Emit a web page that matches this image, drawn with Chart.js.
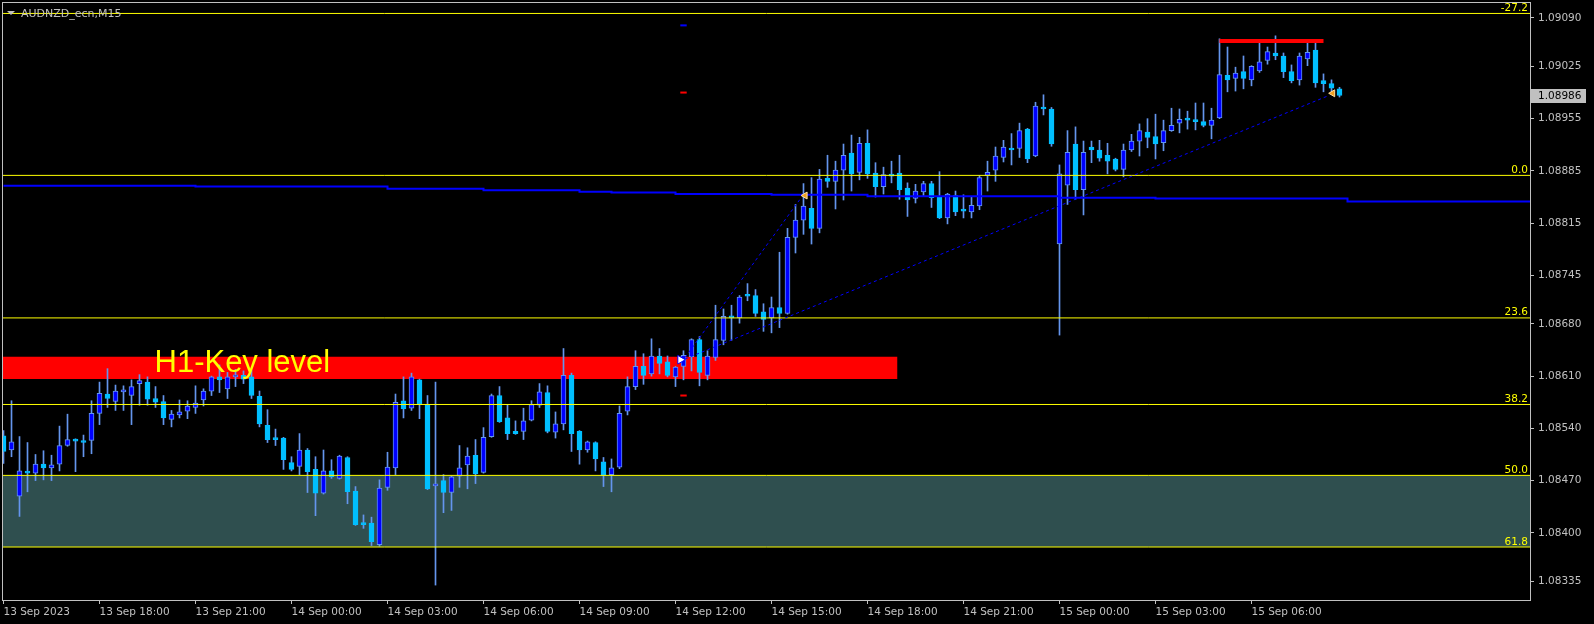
<!DOCTYPE html>
<html>
<head>
<meta charset="utf-8">
<title>AUDNZD_ecn,M15</title>
<script src="https://cdn.jsdelivr.net/npm/chart.js@4.4.0/dist/chart.umd.min.js"></script>
<style>
  html, body { margin: 0; padding: 0; background: #000; }
  #wrap { width: 1594px; height: 624px; }
</style>
</head>
<body>
<div id="wrap"><canvas id="chart" width="1594" height="624"></canvas></div>
<script>
/* AUDNZD M15 candles, MetaTrader look */

// Bar 0 = 13 Sep 2023 15:00, one bar every 15 minutes
const opens = [
  1.08530, 1.08511, 1.08449, 1.08481, 1.08480, 1.08492, 1.08487, 1.08492, 1.08517, 1.08525,
  1.08523, 1.08524, 1.08560, 1.08586, 1.08576, 1.08589, 1.08584, 1.08600, 1.08602, 1.08580,
  1.08576, 1.08552, 1.08558, 1.08563, 1.08568, 1.08578, 1.08590, 1.08609, 1.08593, 1.08609,
  1.08611, 1.08609, 1.08583, 1.08544, 1.08527, 1.08527, 1.08494, 1.08489, 1.08511, 1.08485,
  1.08453, 1.08483, 1.08473, 1.08501, 1.08456, 1.08413, 1.08413, 1.08384, 1.08461, 1.08487,
  1.08577, 1.08567, 1.08605, 1.08572, 1.08463, 1.08470, 1.08454, 1.08476, 1.08491, 1.08504,
  1.08481, 1.08529, 1.08584, 1.08554, 1.08536, 1.08536, 1.08551, 1.08571, 1.08588, 1.08535,
  1.08546, 1.08611, 1.08536, 1.08511, 1.08521, 1.08495, 1.08478, 1.08488, 1.08563, 1.08596,
  1.08623, 1.08613, 1.08637, 1.08629, 1.08609, 1.08623, 1.08636, 1.08659, 1.08611, 1.08635,
  1.08658, 1.08690, 1.08688, 1.08718, 1.08718, 1.08696, 1.08688, 1.08702, 1.08694, 1.08796,
  1.08819, 1.08835, 1.08808, 1.08875, 1.08871, 1.08886, 1.08909, 1.08883, 1.08922, 1.08882,
  1.08864, 1.08880, 1.08882, 1.08862, 1.08848, 1.08857, 1.08868, 1.08850, 1.08822, 1.08852,
  1.08834, 1.08830, 1.08838, 1.08879, 1.08886, 1.08903, 1.08915, 1.08915, 1.08941, 1.08905,
  1.08970, 1.08968, 1.08787, 1.08866, 1.08921, 1.08860, 1.08917, 1.08913, 1.08906, 1.08901,
  1.08887, 1.08913, 1.08925, 1.08937, 1.08931, 1.08923, 1.08939, 1.08949, 1.08954, 1.08953,
  1.08951, 1.08946, 1.08956, 1.09013, 1.09009, 1.09018, 1.09007, 1.09019, 1.09033, 1.09043,
  1.09039, 1.09018, 1.09007, 1.09035, 1.09047, 1.09006, 1.09002, 1.08995
];
const highs = [
  1.08537, 1.08577, 1.08529, 1.08521, 1.08505, 1.08510, 1.08504, 1.08543, 1.08559, 1.08526,
  1.08531, 1.08577, 1.08602, 1.08620, 1.08598, 1.08597, 1.08605, 1.08612, 1.08609, 1.08596,
  1.08584, 1.08564, 1.08578, 1.08577, 1.08597, 1.08593, 1.08610, 1.08625, 1.08615, 1.08619,
  1.08617, 1.08618, 1.08590, 1.08565, 1.08539, 1.08528, 1.08502, 1.08533, 1.08513, 1.08502,
  1.08511, 1.08498, 1.08504, 1.08502, 1.08462, 1.08424, 1.08421, 1.08471, 1.08508, 1.08586,
  1.08609, 1.08614, 1.08606, 1.08584, 1.08602, 1.08478, 1.08476, 1.08517, 1.08514, 1.08525,
  1.08541, 1.08586, 1.08596, 1.08572, 1.08550, 1.08567, 1.08577, 1.08600, 1.08597, 1.08562,
  1.08647, 1.08614, 1.08537, 1.08523, 1.08522, 1.08501, 1.08499, 1.08570, 1.08609, 1.08644,
  1.08640, 1.08660, 1.08647, 1.08637, 1.08623, 1.08644, 1.08660, 1.08663, 1.08644, 1.08705,
  1.08700, 1.08705, 1.08718, 1.08734, 1.08726, 1.08707, 1.08716, 1.08776, 1.08808, 1.08840,
  1.08868, 1.08876, 1.08887, 1.08906, 1.08898, 1.08921, 1.08933, 1.08930, 1.08940, 1.08896,
  1.08890, 1.08898, 1.08906, 1.08869, 1.08867, 1.08871, 1.08871, 1.08884, 1.08855, 1.08858,
  1.08853, 1.08850, 1.08879, 1.08898, 1.08917, 1.08926, 1.08935, 1.08949, 1.08942, 1.08977,
  1.08987, 1.08970, 1.08893, 1.08939, 1.08944, 1.08925, 1.08925, 1.08926, 1.08922, 1.08902,
  1.08921, 1.08934, 1.08948, 1.08955, 1.08961, 1.08953, 1.08969, 1.08968, 1.08965, 1.08976,
  1.08976, 1.08969, 1.09062, 1.09051, 1.09024, 1.09039, 1.09026, 1.09058, 1.09051, 1.09066,
  1.09043, 1.09027, 1.09043, 1.09060, 1.09056, 1.09015, 1.09007, 1.08997
];
const lows = [
  1.08493, 1.08502, 1.08422, 1.08455, 1.08470, 1.08471, 1.08470, 1.08483, 1.08516, 1.08482,
  1.08502, 1.08506, 1.08545, 1.08568, 1.08564, 1.08564, 1.08545, 1.08571, 1.08571, 1.08568,
  1.08545, 1.08542, 1.08554, 1.08553, 1.08560, 1.08570, 1.08584, 1.08588, 1.08580, 1.08596,
  1.08600, 1.08580, 1.08542, 1.08521, 1.08517, 1.08485, 1.08483, 1.08478, 1.08454, 1.08423,
  1.08452, 1.08473, 1.08472, 1.08439, 1.08410, 1.08406, 1.08383, 1.08382, 1.08457, 1.08478,
  1.08554, 1.08564, 1.08553, 1.08458, 1.08330, 1.08427, 1.08430, 1.08461, 1.08459, 1.08466,
  1.08480, 1.08528, 1.08548, 1.08525, 1.08532, 1.08525, 1.08550, 1.08568, 1.08534, 1.08527,
  1.08538, 1.08509, 1.08492, 1.08508, 1.08483, 1.08462, 1.08455, 1.08486, 1.08558, 1.08592,
  1.08599, 1.08610, 1.08613, 1.08609, 1.08596, 1.08605, 1.08617, 1.08597, 1.08605, 1.08631,
  1.08652, 1.08658, 1.08681, 1.08711, 1.08690, 1.08670, 1.08668, 1.08675, 1.08693, 1.08775,
  1.08800, 1.08787, 1.08802, 1.08863, 1.08834, 1.08846, 1.08858, 1.08873, 1.08875, 1.08850,
  1.08854, 1.08869, 1.08847, 1.08824, 1.08842, 1.08852, 1.08836, 1.08821, 1.08814, 1.08825,
  1.08822, 1.08822, 1.08833, 1.08858, 1.08871, 1.08897, 1.08893, 1.08903, 1.08896, 1.08904,
  1.08960, 1.08918, 1.08665, 1.08840, 1.08847, 1.08826, 1.08896, 1.08898, 1.08881, 1.08885,
  1.08877, 1.08911, 1.08905, 1.08916, 1.08901, 1.08912, 1.08938, 1.08936, 1.08941, 1.08940,
  1.08944, 1.08928, 1.08955, 1.08991, 1.08992, 1.08995, 1.08999, 1.09017, 1.09028, 1.09034,
  1.09010, 1.09003, 1.09000, 1.09026, 1.08997, 1.08991, 1.08989, 1.08984
];
const closes = [
  1.08509, 1.08522, 1.08483, 1.08480, 1.08492, 1.08487, 1.08491, 1.08517, 1.08525, 1.08523,
  1.08521, 1.08560, 1.08587, 1.08580, 1.08590, 1.08590, 1.08596, 1.08604, 1.08579, 1.08575,
  1.08554, 1.08559, 1.08562, 1.08570, 1.08574, 1.08590, 1.08609, 1.08605, 1.08609, 1.08611,
  1.08606, 1.08584, 1.08546, 1.08525, 1.08525, 1.08498, 1.08485, 1.08511, 1.08482, 1.08453,
  1.08483, 1.08475, 1.08503, 1.08455, 1.08411, 1.08411, 1.08388, 1.08460, 1.08488, 1.08575,
  1.08566, 1.08609, 1.08572, 1.08459, 1.08465, 1.08454, 1.08475, 1.08487, 1.08503, 1.08479,
  1.08528, 1.08584, 1.08549, 1.08533, 1.08533, 1.08550, 1.08572, 1.08589, 1.08536, 1.08546,
  1.08611, 1.08533, 1.08511, 1.08522, 1.08499, 1.08477, 1.08487, 1.08560, 1.08596, 1.08623,
  1.08611, 1.08637, 1.08627, 1.08611, 1.08622, 1.08638, 1.08659, 1.08615, 1.08637, 1.08659,
  1.08690, 1.08688, 1.08716, 1.08717, 1.08694, 1.08686, 1.08702, 1.08694, 1.08796, 1.08819,
  1.08838, 1.08808, 1.08874, 1.08871, 1.08886, 1.08906, 1.08881, 1.08922, 1.08881, 1.08864,
  1.08880, 1.08878, 1.08860, 1.08846, 1.08858, 1.08868, 1.08849, 1.08822, 1.08854, 1.08830,
  1.08831, 1.08839, 1.08876, 1.08883, 1.08905, 1.08917, 1.08913, 1.08939, 1.08901, 1.08972,
  1.08968, 1.08921, 1.08881, 1.08910, 1.08860, 1.08910, 1.08913, 1.08902, 1.08898, 1.08887,
  1.08913, 1.08925, 1.08939, 1.08930, 1.08921, 1.08939, 1.08946, 1.08954, 1.08953, 1.08951,
  1.08946, 1.08953, 1.09014, 1.09007, 1.09016, 1.09009, 1.09025, 1.09031, 1.09045, 1.09039,
  1.09018, 1.09006, 1.09039, 1.09044, 1.09003, 1.09002, 1.08996, 1.08986
];

// Time axis: bar index of each label
const timeTickBars = [0, 12, 24, 36, 48, 60, 72, 84, 96, 108, 120, 132, 144, 156];
const timeTickLabels = [
  '13 Sep 2023', '13 Sep 18:00', '13 Sep 21:00', '14 Sep 00:00', '14 Sep 03:00',
  '14 Sep 06:00', '14 Sep 09:00', '14 Sep 12:00', '14 Sep 15:00', '14 Sep 18:00',
  '14 Sep 21:00', '15 Sep 00:00', '15 Sep 03:00', '15 Sep 06:00'
];

// Price axis labels
const priceTicks = [1.09090, 1.09025, 1.08955, 1.08885, 1.08815, 1.08745,
                    1.08680, 1.08610, 1.08540, 1.08470, 1.08400, 1.08335];

// Fibonacci retracement levels
const fibNames = ['-27.2', '0.0', '23.6', '38.2', '50.0', '61.8'];
const fibPrices = [1.09096, 1.08879, 1.08688, 1.08572, 1.08477, 1.08381];

// Higher timeframe moving average (steps)
const maBars = [0, 24, 48, 60, 72, 76, 84, 96, 108, 132, 144, 168];
const maValues = [1.08865, 1.08864, 1.08861, 1.08859, 1.08857, 1.08856,
                  1.08854, 1.08853, 1.08851, 1.08849, 1.08848, 1.08844];

// H1 key level zone
const keyZoneBars = [-0.0625, 111.75];
const keyZonePrices = [1.08606, 1.08636];
const keyLabelBar = 18.875;
const keyLabelPrice = 1.08616;

// Trend lines (dotted)
const trendABars = [85.2, 99.7];
const trendAPrices = [1.08635, 1.08849];
const trendBBars = [85.2, 165.44];
const trendBPrices = [1.08633, 1.08985];

// Top resistance segment
const resistBars = [152, 165];
const resistPrice = 1.09059;

// Markers
const arrowBars = [100.2, 166.15];
const arrowPrices = [1.08852, 1.08989];
const startBars = [84.6];
const startPrices = [1.08632];
const dashBars = [84.6, 85.4];
const blueDashPrice = 1.09080;
const redDashPrices = [1.08990, 1.08584];

// View window
const X_MIN = -0.0625, X_MAX = 190.8125;
const Y_MIN = 1.08310, Y_MAX = 1.09110;

const AXIS_COLOR = '#c0c0c0';
const BULL_FILL = '#0000ff';
const BEAR_FILL = '#00bfff';
const WICK_COLOR = '#6495ed';
const FIB_COLOR = '#ffff00';

Chart.defaults.font.family = '"DejaVu Sans", sans-serif';
Chart.defaults.font.size = 10.5;

const isBull = i => closes[i] >= opens[i];
const hline = (price, from, to) => [{ x: from, y: price }, { x: to, y: price }];
const lineDs = (data, color, width, order, extra) => Object.assign({
  type: 'line', data: data, borderColor: color, borderWidth: width,
  pointRadius: 0, fill: false, order: order
}, extra || {});

const bodyData = opens.map((o, i) => ({ x: i, y: [o, closes[i]] }));
const wickData = opens.map((o, i) => ({ x: i, y: [lows[i], highs[i]] }));

const maData = maBars.map((b, i) => ({ x: b, y: maValues[i] }));
maData.push({ x: X_MAX, y: maValues[maValues.length - 1] });

const datasets = [];

// Zone between 50.0 and 61.8
datasets.push(lineDs(hline(fibPrices[4], X_MIN, X_MAX), 'rgba(0,0,0,0)', 0, 9, {
  fill: { value: fibPrices[5] }, backgroundColor: '#2f4f4f'
}));
// Red key level box
datasets.push(lineDs(hline(keyZonePrices[1], keyZoneBars[0], keyZoneBars[1]), 'rgba(0,0,0,0)', 0, 8, {
  fill: { value: keyZonePrices[0] }, backgroundColor: '#ff0000'
}));
// Wicks
datasets.push({
  type: 'bar', data: wickData, barThickness: 1, grouped: false, clip: 0,
  backgroundColor: WICK_COLOR, borderWidth: 0, order: 7
});
// Bodies
datasets.push({
  type: 'bar', data: bodyData, barThickness: 5, grouped: false, clip: 0,
  minBarLength: 2, borderSkipped: false, borderWidth: 1,
  backgroundColor: ctx => isBull(ctx.dataIndex) ? BULL_FILL : BEAR_FILL,
  borderColor: ctx => isBull(ctx.dataIndex) ? WICK_COLOR : BEAR_FILL,
  order: 6
});
// Moving average
datasets.push(lineDs(maData, '#0000ff', 2, 5, { stepped: 'before' }));
// Fib lines
fibPrices.forEach(p => datasets.push(lineDs(hline(p, X_MIN, X_MAX), FIB_COLOR, 1, 4)));
// Dotted trend lines
datasets.push(lineDs(trendABars.map((b, i) => ({ x: b, y: trendAPrices[i] })), '#0000ff', 1, 3, { borderDash: [3, 3] }));
datasets.push(lineDs(trendBBars.map((b, i) => ({ x: b, y: trendBPrices[i] })), '#0000ff', 1, 3, { borderDash: [3, 3] }));
// Resistance segment
datasets.push(lineDs(hline(resistPrice, resistBars[0], resistBars[1]), '#ff0000', 4, 2));
// Small dashes
datasets.push(lineDs(hline(blueDashPrice, dashBars[0], dashBars[1]), '#0000ff', 2, 2));
redDashPrices.forEach(p => datasets.push(lineDs(hline(p, dashBars[0], dashBars[1]), '#ff0000', 2, 2)));
// Arrows
datasets.push(lineDs(arrowBars.map((b, i) => ({ x: b, y: arrowPrices[i] })), '#ffe0a0', 1, 1, {
  showLine: false, pointRadius: 4, pointStyle: 'triangle', pointRotation: -90,
  pointBackgroundColor: '#f0a020', pointBorderColor: '#ffe0a0'
}));
datasets.push(lineDs(startBars.map((b, i) => ({ x: b, y: startPrices[i] })), '#0000ff', 1, 1, {
  showLine: false, pointRadius: 5, pointStyle: 'triangle', pointRotation: 90,
  pointBackgroundColor: '#ffffff', pointBorderColor: '#0000ff'
}));

// Background, frame and text labels
const overlayPlugin = {
  id: 'overlay',
  beforeDraw(chart) {
    const ctx = chart.ctx;
    ctx.save();
    ctx.fillStyle = '#000';
    ctx.fillRect(0, 0, chart.width, chart.height);
    ctx.restore();
  },
  afterDatasetsDraw(chart) {
    const { ctx, chartArea, scales } = chart;
    const x = scales.x, y = scales.y;
    ctx.save();

    // fib level names
    ctx.font = '10.5px "DejaVu Sans"';
    ctx.fillStyle = FIB_COLOR;
    ctx.textAlign = 'right';
    ctx.textBaseline = 'bottom';
    fibPrices.forEach((p, i) => {
      ctx.fillText(fibNames[i], chartArea.right - 2, y.getPixelForValue(p));
    });

    // key level text
    ctx.font = '31px "Liberation Sans", Arial';
    ctx.textAlign = 'left';
    ctx.textBaseline = 'alphabetic';
    ctx.fillText('H1-Key level', x.getPixelForValue(keyLabelBar), y.getPixelForValue(keyLabelPrice));

    // symbol caption
    ctx.fillStyle = AXIS_COLOR;
    ctx.beginPath();
    ctx.moveTo(7, 11); ctx.lineTo(15, 11); ctx.lineTo(11, 15); ctx.closePath();
    ctx.fill();
    ctx.font = '11px "DejaVu Sans"';
    ctx.fillText('AUDNZD_ecn,M15', 21, 17);

    // frame
    ctx.strokeStyle = AXIS_COLOR;
    ctx.lineWidth = 1;
    ctx.strokeRect(chartArea.left - 0.5, chartArea.top - 0.5,
                   chartArea.right - chartArea.left + 1, chartArea.bottom - chartArea.top + 1);
    ctx.restore();
  },
  afterDraw(chart) {
    const { ctx, chartArea, scales } = chart;
    const last = closes[closes.length - 1];
    const py = Math.round(scales.y.getPixelForValue(last));
    ctx.save();
    ctx.fillStyle = '#c0c0c0';
    ctx.fillRect(chartArea.right + 1, py - 7, 55, 14);
    ctx.fillStyle = '#000';
    ctx.font = '10.5px "DejaVu Sans"';
    ctx.textBaseline = 'middle';
    ctx.fillText(last.toFixed(5), chartArea.right + 8, py + 0.5);
    ctx.restore();
  }
};

new Chart(document.getElementById('chart'), {
  type: 'bar',
  data: { datasets: datasets },
  plugins: [overlayPlugin],
  options: {
    responsive: false,
    animation: false,
    devicePixelRatio: 1,
    events: [],
    layout: { autoPadding: false, padding: { left: 3, top: 3, right: 0, bottom: 0 } },
    plugins: { legend: { display: false }, tooltip: { enabled: false } },
    scales: {
      x: {
        type: 'linear', min: X_MIN, max: X_MAX, offset: false,
        grid: { display: true, drawOnChartArea: false, tickLength: 4, color: AXIS_COLOR, offset: false },
        border: { display: true, color: AXIS_COLOR },
        ticks: {
          autoSkip: false, maxRotation: 0, align: 'start', padding: 2, color: AXIS_COLOR,
          callback: (v, i) => timeTickLabels[i]
        },
        afterBuildTicks: s => { s.ticks = timeTickBars.map(v => ({ value: v })); },
        afterFit: s => { s.height = 24; s.paddingLeft = 0; s.paddingRight = 0; }
      },
      y: {
        type: 'linear', position: 'right', min: Y_MIN, max: Y_MAX, beginAtZero: false,
        grid: { display: true, drawOnChartArea: false, tickLength: 4, color: AXIS_COLOR },
        border: { display: true, color: AXIS_COLOR },
        ticks: { autoSkip: false, padding: 4, color: AXIS_COLOR, callback: v => v.toFixed(5) },
        afterBuildTicks: s => { s.ticks = priceTicks.map(v => ({ value: v })); },
        afterFit: s => { s.width = 64; s.paddingTop = 0; s.paddingBottom = 0; }
      }
    }
  }
});
</script>
</body>
</html>
